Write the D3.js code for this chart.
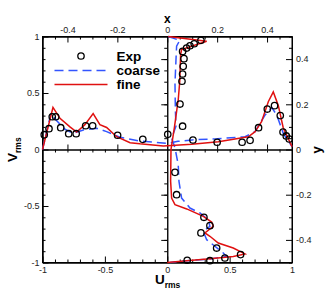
<!DOCTYPE html>
<html><head><meta charset="utf-8">
<script src="https://cdn.jsdelivr.net/npm/d3@7"></script>
<style>body{margin:0;background:#fff}svg{display:block}text{font-family:"Liberation Sans",Arial,sans-serif}</style>
</head><body>
<svg id="c" width="332" height="296"></svg>
<script>
// Horizontal profile: Vrms vs x
const expHx = [-0.493,-0.474,-0.461,-0.447,-0.427,-0.395,-0.365,-0.327,-0.299,-0.199,-0.098,0.002,0.103,0.2,0.3,0.332,0.366,0.401,0.43,0.453,0.464,0.477,0.489];
const expHv = [0.131,0.184,0.29,0.29,0.193,0.14,0.14,0.21,0.21,0.126,0.09,0.134,0.084,0.064,0.064,0.081,0.193,0.358,0.388,0.3,0.155,0.12,0.093];
const fineHx = [-0.5,-0.458,-0.43,-0.39,-0.363,-0.33,-0.297,-0.27,-0.243,-0.203,-0.149,-0.11,-0.016,0.098,0.205,0.325,0.352,0.378,0.405,0.425,0.445,0.465,0.5];
const fineHv = [0,0.373,0.276,0.2,0.155,0.22,0.318,0.22,0.195,0.113,0.06,0.05,0.031,0.046,0.069,0.113,0.158,0.246,0.423,0.51,0.39,0.19,0.025];
const coarseHx = [-0.5,-0.466,-0.443,-0.41,-0.377,-0.336,-0.283,-0.243,-0.19,-0.11,0.0,0.043,0.1,0.2,0.312,0.352,0.392,0.419,0.439,0.465,0.5];
const coarseHv = [0,0.32,0.255,0.179,0.143,0.173,0.188,0.158,0.108,0.075,0.055,0.072,0.085,0.095,0.113,0.158,0.305,0.37,0.305,0.143,0.025];
// Vertical profile: Urms vs y
const expVu = [0.27,0.216,0.182,0.155,0.123,0.134,0.128,0.123,0.118,0.102,0.123,0.062,0.075,0.294,0.342,0.27,0.396,0.588,0.462,0.342,0.16];
const expVy = [0.483,0.468,0.459,0.449,0.434,0.402,0.368,0.334,0.302,0.201,0.103,-0.101,-0.2,-0.3,-0.337,-0.369,-0.436,-0.465,-0.48,-0.492,-0.49];
const fineVy = [0.5,0.479,0.442,0.42,0.3,0.22,0.1,0.0,-0.14,-0.215,-0.244,-0.263,-0.296,-0.321,-0.34,-0.369,-0.384,-0.414,-0.436,-0.462,-0.473,-0.483,-0.492,-0.5];
const fineVu = [0.008,0.316,0.115,0.107,0.1,0.088,0.058,0.03,0.027,0.035,0.062,0.156,0.289,0.356,0.369,0.302,0.342,0.409,0.529,0.623,0.529,0.342,0.156,0.0];
const coarseVy = [0.5,0.483,0.457,0.397,0.294,0.176,0.103,0.05,0.007,-0.067,-0.141,-0.215,-0.259,-0.281,-0.311,-0.34,-0.362,-0.399,-0.428,-0.458,-0.473,-0.485,-0.492,-0.5];
const coarseVu = [0.008,0.1,0.075,0.07,0.062,0.065,0.07,0.035,0.062,0.088,0.094,0.115,0.182,0.262,0.329,0.342,0.289,0.316,0.382,0.449,0.476,0.342,0.156,0.02];
// Tick labels
const bottomTicks = [-1,-0.5,0,0.5,1];
const leftTicks = [-1,-0.5,0,0.5,1];
const topTicks = [-0.4,-0.2,0,0.2,0.4];
const rightTicks = [-0.4,-0.2,0,0.2,0.4];
const legendLabels = ["Exp","coarse","fine"];

const L=42.5,R=292,T=36.5,B=262.5;
const xS = d3.scaleLinear().domain([-0.5,0.5]).range([L,R]);
const uS = d3.scaleLinear().domain([-1,1]).range([L,R]);
const vS = d3.scaleLinear().domain([-1,1]).range([B,T]);
const yS = d3.scaleLinear().domain([-0.5,0.5]).range([B,T]);
const svg = d3.select("#c");
const RED="#e01010", BLUE="#3355ff";
const fmt = d=> d===0?"0":String(d);
const rng=(a,b,s)=>{const o=[];for(let v=a;v<=b+1e-9;v+=s)o.push(+v.toFixed(4));return o;};

function styleAxis(g){g.select(".domain").attr("stroke","#000");g.selectAll(".tick line").attr("stroke","#000");g.selectAll("text").attr("fill","#222").style("font-size","9px");}
// minor ticks
const minorB = rng(-1,1,0.1).filter(v=>!bottomTicks.some(t=>Math.abs(t-v)<1e-6));
const minorL = rng(-1,1,0.1).filter(v=>!leftTicks.some(t=>Math.abs(t-v)<1e-6));
const minorT = rng(-0.5,0.5,0.05).filter(v=>!topTicks.some(t=>Math.abs(t-v)<1e-6));
const minorR = rng(-0.5,0.5,0.05).filter(v=>!rightTicks.some(t=>Math.abs(t-v)<1e-6));
svg.append("g").attr("transform",`translate(0,${B})`).call(d3.axisBottom(uS).tickValues(minorB).tickFormat("").tickSize(-3).tickSizeOuter(0)).call(styleAxis);
svg.append("g").attr("transform",`translate(${L},0)`).call(d3.axisLeft(vS).tickValues(minorL).tickFormat("").tickSize(-3).tickSizeOuter(0)).call(styleAxis);
svg.append("g").attr("transform",`translate(0,${T})`).call(d3.axisTop(xS).tickValues(minorT).tickFormat("").tickSize(-3).tickSizeOuter(0)).call(styleAxis);
svg.append("g").attr("transform",`translate(${R},0)`).call(d3.axisRight(yS).tickValues(minorR).tickFormat("").tickSize(-3).tickSizeOuter(0)).call(styleAxis);
svg.append("g").attr("transform",`translate(0,${B})`).call(d3.axisBottom(uS).tickValues(bottomTicks).tickFormat(fmt).tickSize(-6).tickSizeOuter(0).tickPadding(4)).call(styleAxis);
svg.append("g").attr("transform",`translate(${L},0)`).call(d3.axisLeft(vS).tickValues(leftTicks).tickFormat(fmt).tickSize(-6).tickSizeOuter(0).tickPadding(3)).call(styleAxis);
svg.append("g").attr("transform",`translate(0,${T})`).call(d3.axisTop(xS).tickValues(topTicks).tickFormat(fmt).tickSize(-6).tickSizeOuter(0).tickPadding(4)).call(styleAxis);
svg.append("g").attr("transform",`translate(${R},0)`).call(d3.axisRight(yS).tickValues(rightTicks).tickFormat(fmt).tickSize(-6).tickSizeOuter(0).tickPadding(4)).call(styleAxis);
// center lines
const cy = vS(0), cx = uS(0);
svg.append("g").attr("transform",`translate(0,${cy})`).call(d3.axisBottom(xS).tickValues(rng(-0.45,0.45,0.05).filter(v=>Math.abs(v)>1e-6)).tickFormat("").tickSize(3).tickSizeOuter(0)).call(styleAxis);
svg.append("g").attr("transform",`translate(0,${cy})`).call(d3.axisTop(xS).tickValues([-0.4,-0.2,0.2,0.4]).tickFormat("").tickSize(5).tickSizeOuter(0)).call(styleAxis);
svg.append("g").attr("transform",`translate(${cx},0)`).call(d3.axisLeft(yS).tickValues(rng(-0.45,0.45,0.05).filter(v=>Math.abs(v)>1e-6)).tickFormat("").tickSize(3).tickSizeOuter(0)).call(styleAxis);
svg.append("g").attr("transform",`translate(${cx},0)`).call(d3.axisLeft(yS).tickValues([-0.4,-0.2,0.2,0.4]).tickFormat("").tickSize(6).tickSizeOuter(0)).call(styleAxis);
svg.append("rect").attr("x",L).attr("y",T).attr("width",R-L).attr("height",B-T).attr("fill","none").attr("stroke","#000");

// lines
const lineH = d3.line().x(d=>xS(d[0])).y(d=>vS(d[1]));
const lineV = d3.line().x(d=>uS(d[0])).y(d=>yS(d[1]));
const zip=(a,b)=>a.map((v,i)=>[v,b[i]]);
svg.append("path").attr("d",lineH(zip(coarseHx,coarseHv))).attr("fill","none").attr("stroke",BLUE).attr("stroke-width",1.5).attr("stroke-dasharray","9,5");
svg.append("path").attr("d",lineV(zip(coarseVu,coarseVy))).attr("fill","none").attr("stroke",BLUE).attr("stroke-width",1.5).attr("stroke-dasharray","9,5");
svg.append("path").attr("d",lineH(zip(fineHx,fineHv))).attr("fill","none").attr("stroke",RED).attr("stroke-width",1.5);
svg.append("path").attr("d",lineV(zip(fineVu,fineVy))).attr("fill","none").attr("stroke",RED).attr("stroke-width",1.5);
svg.append("g").selectAll("circle").data(zip(expHx,expHv)).join("circle").attr("cx",d=>xS(d[0])).attr("cy",d=>vS(d[1])).attr("r",3.2).attr("fill","none").attr("stroke","#000").attr("stroke-width",1.3);
svg.append("g").selectAll("circle").data(zip(expVu,expVy)).join("circle").attr("cx",d=>uS(d[0])).attr("cy",d=>yS(d[1])).attr("r",3.2).attr("fill","none").attr("stroke","#000").attr("stroke-width",1.3);

// legend
const lg = svg.append("g");
lg.append("circle").attr("cx",81).attr("cy",56).attr("r",3.2).attr("fill","none").attr("stroke","#000").attr("stroke-width",1.3);
lg.append("line").attr("x1",54.5).attr("x2",107.5).attr("y1",70.5).attr("y2",70.5).attr("stroke",BLUE).attr("stroke-width",1.5).attr("stroke-dasharray","9,5");
lg.append("line").attr("x1",54.5).attr("x2",107.5).attr("y1",84.5).attr("y2",84.5).attr("stroke",RED).attr("stroke-width",1.5);
[60.5,74.8,88.5].forEach((y,i)=>lg.append("text").attr("x",116.5).attr("y",y).attr("font-size","13.5px").attr("font-weight","bold").attr("fill","#000").text(legendLabels[i]));

// titles
svg.append("text").attr("x",167.3).attr("y",22.5).attr("text-anchor","middle").attr("font-size","12px").attr("font-weight","bold").text("x");
const ut = svg.append("text").attr("x",155).attr("y",283.5).attr("font-size","13.5px").attr("font-weight","bold");
ut.append("tspan").text("U"); ut.append("tspan").attr("font-size","8.5px").attr("dy","4").text("rms");
const vt = svg.append("text").attr("transform","translate(17,162) rotate(-90)").attr("font-size","13.5px").attr("font-weight","bold");
vt.append("tspan").text("V"); vt.append("tspan").attr("font-size","8.5px").attr("dy","4").text("rms");
svg.append("text").attr("transform","translate(321,150) rotate(-90)").attr("text-anchor","middle").attr("font-size","13px").attr("font-weight","bold").text("y");
</script>
</body></html>
